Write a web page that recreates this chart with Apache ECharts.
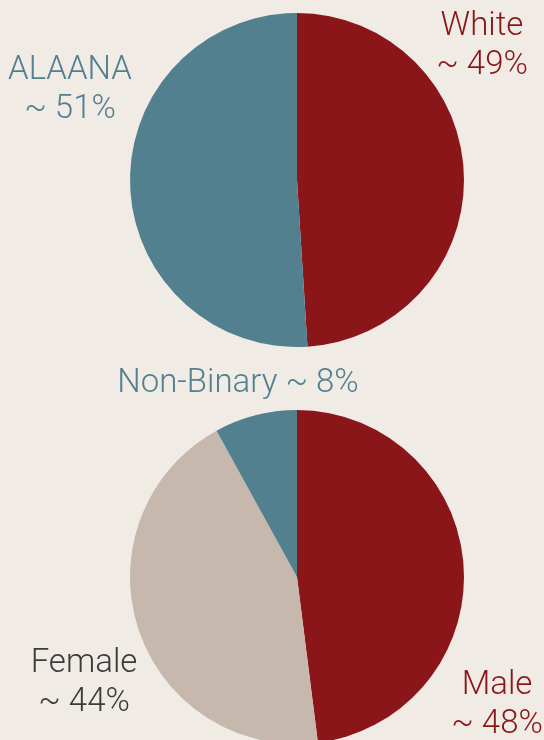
<!DOCTYPE html>
<html>
<head>
<meta charset="utf-8">
<script src="https://cdn.jsdelivr.net/npm/echarts@6/dist/echarts.min.js"></script>
<style>
  html, body { margin: 0; padding: 0; background: #f1ebe6; }
  #chart { width: 544px; height: 740px; }
</style>
</head>
<body>
<div id="chart"></div>
<script>
// race / ethnicity
const raceNames = ['White', 'ALAANA'];
const raceValues = [49, 51];
// gender
const genderNames = ['Male', 'Female', 'Non-Binary'];
const genderValues = [48, 44, 8];

const RED = '#8b161a';
const TEAL = '#52808f';
const BEIGE = '#c6b8ad';
const DARK = '#3b3b3b';

const chart = echarts.init(document.getElementById('chart'));

const toData = (names, values) => names.map((n, i) => ({ name: n, value: values[i] }));

const labelFont = {
    fontFamily: 'Roboto',
    fontWeight: 300,
    fontSize: 33,
    lineHeight: 39
};

function label(text, x, y, color) {
    return {
        type: 'text',
        x: x,
        y: y,
        style: Object.assign({
            text: text,
            fill: color,
            align: 'center',
            verticalAlign: 'middle'
        }, labelFont)
    };
}

const option = {
    backgroundColor: '#f1ebe6',
    animation: false,
    series: [
        {
            type: 'pie',
            center: [297, 180],
            radius: [0, 167],
            startAngle: 90,
            clockwise: true,
            label: { show: false },
            labelLine: { show: false },
            emphasis: { disabled: true },
            color: [RED, TEAL],
            data: toData(raceNames, raceValues)
        },
        {
            type: 'pie',
            center: [297, 577],
            radius: [0, 167],
            startAngle: 90,
            clockwise: true,
            label: { show: false },
            labelLine: { show: false },
            emphasis: { disabled: true },
            color: [RED, BEIGE, TEAL],
            data: toData(genderNames, genderValues)
        }
    ],
    graphic: [
        label(raceNames[0] + '\n~ ' + raceValues[0] + '%', 482, 46, RED),
        label(raceNames[1] + '\n~ ' + raceValues[1] + '%', 70, 90, TEAL),
        label(genderNames[2] + ' ~ ' + genderValues[2] + '%', 238, 384, TEAL),
        label(genderNames[1] + '\n~ ' + genderValues[1] + '%', 84, 683, DARK),
        label(genderNames[0] + '\n~ ' + genderValues[0] + '%', 497, 705, RED)
    ]
};

chart.setOption(option);
</script>
</body>
</html>
